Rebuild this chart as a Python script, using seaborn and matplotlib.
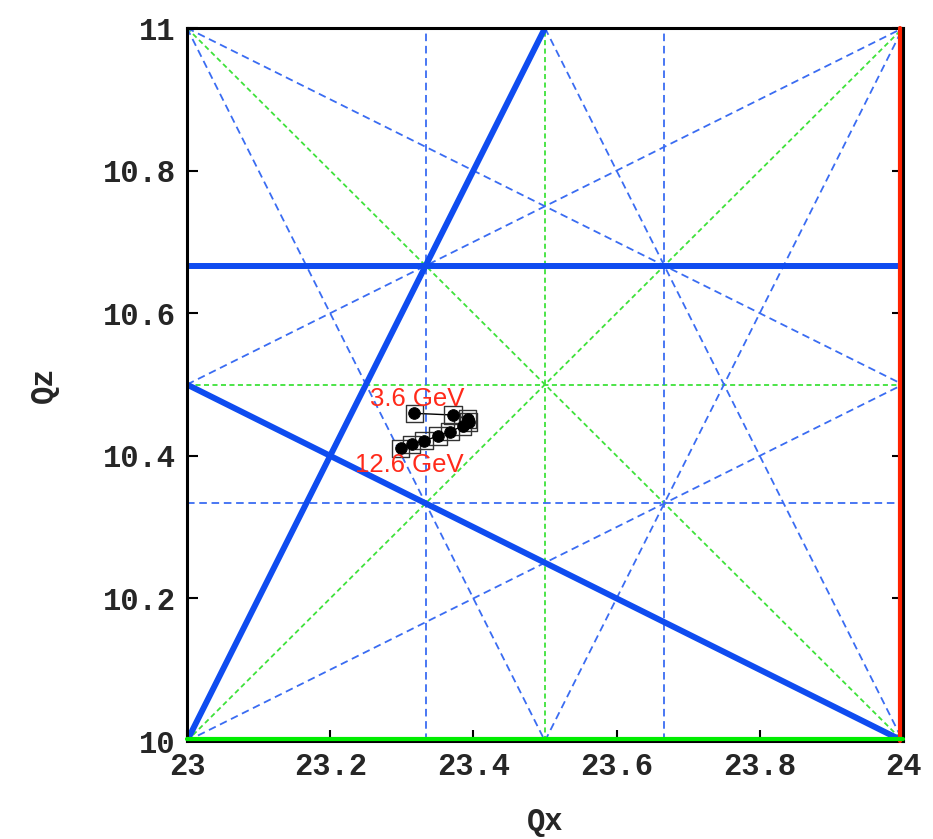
import numpy as np
import matplotlib
matplotlib.use("Agg")
import matplotlib.pyplot as plt
import matplotlib.transforms as mtransforms
import seaborn as sns
import pandas as pd

# Tune scan: one working point per beam energy (3.6 GeV ... 12.6 GeV)
energy_gev = [3.6, 4.6, 5.6, 6.6, 7.6, 8.6, 9.6, 10.6, 11.6, 12.6]
qx_tune = [23.3175, 23.3719, 23.3920, 23.3934, 23.3851, 23.3673, 23.3510, 23.3314, 23.3138, 23.2985]
qz_tune = [10.4596, 10.4572, 10.4516, 10.4474, 10.4418, 10.4338, 10.4278, 10.4212, 10.4161, 10.4105]

# Resonance lines m*Qx + n*Qz = p
third_order_strong = [(2, -1, 36), (1, 2, 44), (0, 3, 32)]
third_order = [(3, 0, 70), (3, 0, 71), (0, 3, 31), (2, 1, 57), (2, 1, 58),
               (2, -1, 37), (1, 2, 45), (1, -2, 2), (1, -2, 3)]
second_order = [(2, 0, 47), (0, 2, 21), (1, 1, 34), (1, -1, 13)]

QX_RANGE = (23.0, 24.0)
QZ_RANGE = (10.0, 11.0)
x_ticks = [23, 23.2, 23.4, 23.6, 23.8, 24]
y_ticks = [10, 10.2, 10.4, 10.6, 10.8, 11]


def segment(m, n, p):
    """Clip the line m*Qx + n*Qz = p to the tune box."""
    (x0, x1), (y0, y1) = QX_RANGE, QZ_RANGE
    pts = []
    if n != 0:
        for x in (x0, x1):
            y = (p - m * x) / n
            if y0 - 1e-9 <= y <= y1 + 1e-9:
                pts.append((x, y))
    if m != 0:
        for y in (y0, y1):
            x = (p - n * y) / m
            if x0 - 1e-9 <= x <= x1 + 1e-9:
                pts.append((x, y))
    pts = sorted(set((round(a, 9), round(b, 9)) for a, b in pts))
    return [pts[0][0], pts[-1][0]], [pts[0][1], pts[-1][1]]


sns.set_theme(style="white")
plt.rcParams["font.family"] = ["Liberation Mono", "DejaVu Sans"]

fig = plt.figure(figsize=(9.33, 8.39), dpi=100)
ax = fig.add_axes([0.2004, 0.1168, 0.7674, 0.8498])

blue_strong = "#0f4cf0"
blue_dash = "#3a6cf2"
green = "#3ee23a"

for m, n, p in second_order:
    xs, ys = segment(m, n, p)
    ax.plot(xs, ys, color=green, lw=1.3, dashes=(2.8, 1.9), zorder=2)
for m, n, p in third_order:
    xs, ys = segment(m, n, p)
    ax.plot(xs, ys, color=blue_dash, lw=1.3, dashes=(4.2, 2.6), zorder=2)
for m, n, p in third_order_strong:
    xs, ys = segment(m, n, p)
    ax.plot(xs, ys, color=blue_strong, lw=4.3, solid_capstyle="butt", zorder=3)

# Integer resonances along the frame, nudged just inside the border
shift_left = ax.transData + mtransforms.ScaledTranslation(-2.5 / 100, 0, fig.dpi_scale_trans)
shift_up = ax.transData + mtransforms.ScaledTranslation(0, 2.5 / 100, fig.dpi_scale_trans)
ax.plot([24, 24], [10, 11], color="#ff2200", lw=3.0, zorder=5, clip_on=False,
        transform=shift_left)
ax.plot([23, 24], [10, 10], color="#00ee00", lw=3.0, zorder=5, clip_on=False,
        transform=shift_up)
ax.plot([23, 24], [11, 11], color="#b09a70", lw=1.3, dashes=(4, 2.5), zorder=2)

# Working points
df = pd.DataFrame({"Qx": qx_tune, "Qz": qz_tune, "E": energy_gev})
ax.plot(df["Qx"], df["Qz"], color="black", lw=1.0, zorder=5)
sns.scatterplot(data=df, x="Qx", y="Qz", ax=ax, marker="s", s=160,
                facecolor="none", edgecolor="#333333", linewidth=1.0, zorder=6)
sns.scatterplot(data=df, x="Qx", y="Qz", ax=ax, marker="o", s=70,
                color="black", edgecolor="black", zorder=7)

label_font = ["Liberation Sans", "DejaVu Sans"]
ax.text(qx_tune[0] - 0.0615, qz_tune[0] + 0.0195, f"{energy_gev[0]} GeV", color="#ff2a1a",
        fontsize=18.5, family=label_font, ha="left", va="center", zorder=8)
ax.text(qx_tune[-1] - 0.0635, qz_tune[-1] - 0.0235, f"{energy_gev[-1]} GeV", color="#ff2a1a",
        fontsize=18.5, family=label_font, ha="left", va="center", zorder=8)

ax.set_xlim(*QX_RANGE)
ax.set_ylim(*QZ_RANGE)
ax.set_xticks(x_ticks)
ax.set_yticks(y_ticks)
ax.set_xticklabels(["23", "23.2", "23.4", "23.6", "23.8", "24"])
ax.set_yticklabels(["10", "10.2", "10.4", "10.6", "10.8", "11"])
ax.tick_params(axis="both", direction="in", length=8, width=1.5, color="black",
               labelsize=22, pad=8)
ax.tick_params(axis="y", right=True, left=True, labelright=False)
ax.tick_params(axis="x", bottom=True, top=False)
for lbl in ax.get_xticklabels() + ax.get_yticklabels():
    lbl.set_fontweight("bold")

for side in ["left", "right", "top", "bottom"]:
    ax.spines[side].set_visible(True)
    ax.spines[side].set_color("black")
    ax.spines[side].set_linewidth(2.2)
    ax.spines[side].set_zorder(4)

ax.set_xlabel("Qx", fontsize=22, fontweight="bold", labelpad=18)
ax.set_ylabel("Qz", fontsize=22, fontweight="bold", labelpad=32)
ax.grid(False)

fig.savefig("out.png", dpi=100, facecolor="white")
